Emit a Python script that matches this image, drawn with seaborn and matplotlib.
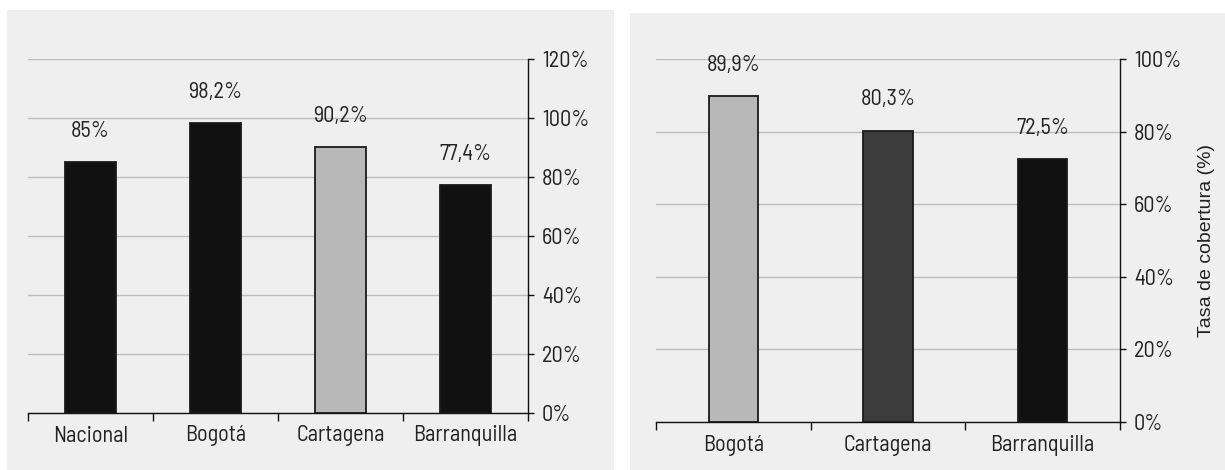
import matplotlib
matplotlib.use("Agg")
import matplotlib.pyplot as plt
from matplotlib import font_manager
from matplotlib.patches import Rectangle
from matplotlib.ticker import FixedLocator, NullFormatter, FuncFormatter
import seaborn as sns

# Coverage rates (%)
cities_left = ["Nacional", "Bogotá", "Cartagena", "Barranquilla"]
rates_left = [85, 98.2, 90.2, 77.4]
colors_left = ["#111111", "#111111", "#b8b8b8", "#111111"]
yticks_left = [0, 20, 40, 60, 80, 100, 120]

cities_right = ["Bogotá", "Cartagena", "Barranquilla"]
rates_right = [89.9, 80.3, 72.5]
colors_right = ["#b8b8b8", "#3c3c3c", "#111111"]
yticks_right = [0, 20, 40, 60, 80, 100]
ylabel_right = "Tasa de cobertura (%)"

sns.set_theme(style="white")
installed = {f.name for f in font_manager.fontManager.ttflist}
# condensed face and the size that gives it a similar text height
candidates = [("Barlow Semi Condensed", 16), ("Roboto Condensed", 14.5),
              ("Barlow Condensed", 16), ("DejaVu Sans", 13)]
condensed, FS = next((n, s) for n, s in candidates if n in installed or n == "DejaVu Sans")
plt.rcParams["font.family"] = [condensed, "DejaVu Sans"]
label_family = [n for n in ["Liberation Sans", "Arimo"] if n in installed] + ["DejaVu Sans"]

W, H = 1225, 470
fig = plt.figure(figsize=(W / 100, H / 100), dpi=100)
fig.patch.set_facecolor("white")

PANEL = "#efefef"
TEXT = "#222222"


def px_rect(x0, y0, x1, y1):
    return [x0 / W, 1 - y1 / H, (x1 - x0) / W, (y1 - y0) / H]


# light grey panel behind each chart
for (x0, y0, x1, y1) in [(7, 10, 614, 470), (630, 13, 1225, 470)]:
    l, b, w, h = px_rect(x0, y0, x1, y1)
    fig.patches.append(Rectangle((l, b), w, h, transform=fig.transFigure,
                                 facecolor=PANEL, edgecolor="none", zorder=-5))


def pct(v):
    return f"{v:g}".replace(".", ",") + "%"


def draw(ax, cats, vals, cols, ticks, width):
    sns.barplot(x=cats, y=vals, hue=cats, palette=cols, legend=False,
                width=width, edgecolor="#1a1a1a", linewidth=1.3,
                saturation=1, ax=ax, zorder=3)
    ax.set_facecolor("none")
    ax.set_xlim(-0.5, len(cats) - 0.5)
    ax.set_ylim(ticks[0], ticks[-1])
    ax.yaxis.tick_right()
    ax.set_yticks(ticks)
    ax.yaxis.set_major_formatter(FuncFormatter(lambda v, p: f"{v:g}%"))
    ax.grid(axis="y", color="#bcbcbc", linewidth=1, zorder=0)
    ax.set_axisbelow(True)
    for s in ["left", "top"]:
        ax.spines[s].set_visible(False)
    for s in ["bottom", "right"]:
        ax.spines[s].set_color("#111111")
        ax.spines[s].set_linewidth(1)
    ax.tick_params(axis="y", which="major", right=True, direction="out",
                   length=4, width=1, color="#111111", pad=6,
                   labelsize=FS, labelcolor=TEXT)
    # category separators below the axis
    ax.xaxis.set_minor_locator(FixedLocator([i - 0.5 for i in range(len(cats) + 1)]))
    ax.xaxis.set_minor_formatter(NullFormatter())
    ax.tick_params(axis="x", which="minor", bottom=True, direction="out",
                   length=5.5, width=1, color="#111111")
    ax.tick_params(axis="x", which="major", bottom=False, length=0, pad=9,
                   labelsize=FS, labelcolor=TEXT)
    ax.set_xlabel("")
    for i, v in enumerate(vals):
        ax.annotate(pct(v), (i, v), xytext=(0, 22), textcoords="offset points",
                    ha="center", va="center", fontsize=FS, color=TEXT)


ax1 = fig.add_axes(px_rect(28, 59, 528, 413))
draw(ax1, cities_left, rates_left, colors_left, yticks_left, 0.41)

ax2 = fig.add_axes(px_rect(656, 59, 1120, 422))
draw(ax2, cities_right, rates_right, colors_right, yticks_right, 0.32)
ax2.yaxis.set_label_position("right")
ax2.set_ylabel(ylabel_right, family=label_family, fontsize=14,
               color="#222222", labelpad=12)

fig.savefig("out.png", dpi=100, facecolor="white")
